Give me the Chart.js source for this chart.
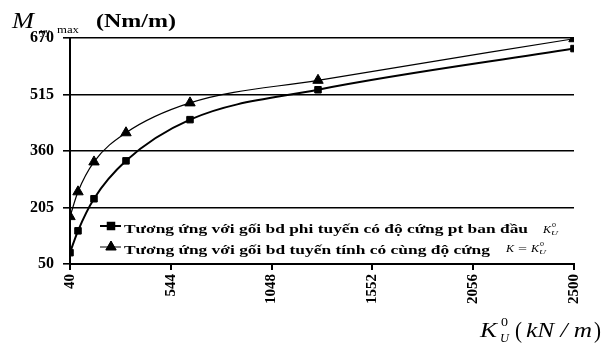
<!DOCTYPE html>
<html>
<head>
<meta charset="utf-8">
<script src="https://cdn.jsdelivr.net/npm/chart.js@4.4.1/dist/chart.umd.min.js"></script>
<style>
html,body{margin:0;padding:0;background:#fff;}
#wrap{position:relative;width:611px;height:351px;}
</style>
</head>
<body>
<div id="wrap"><canvas id="c" width="611" height="351"></canvas></div>
<script>
// ---- data ----
const xValues = [40, 80, 160, 320, 640, 1280, 2560];
const nonlinearM = [81, 141, 229, 333, 446, 528, 641];
const linearM = [180, 248, 330, 410, 492, 554, 668];
const yTickValues = [50, 205, 360, 515, 670];
const xTickValues = [40, 544, 1048, 1552, 2056, 2560];
const xTickLabels = ['40', '544', '1048', '1552', '2056', '2500'];
const seriesNames = [
  'Tương ứng với gối bd phi tuyến có độ cứng pt ban đầu',
  'Tương ứng với gối bd tuyến tính có cùng độ cứng'
];

const serif = '"Liberation Serif", "Times New Roman", serif';

const decorPlugin = {
  id: 'decor',
  afterDraw(chart) {
    const ctx = chart.ctx;
    ctx.save();
    ctx.fillStyle = '#000';
    ctx.strokeStyle = '#000';
    ctx.textBaseline = 'alphabetic';
    ctx.textAlign = 'left';
    function sText(txt, x, y, font, targetW) {
      ctx.font = font;
      const w = ctx.measureText(txt).width;
      const sx = targetW ? targetW / w : 1;
      ctx.save();
      ctx.translate(x, y);
      ctx.scale(sx, 1);
      ctx.fillText(txt, 0, 0);
      ctx.restore();
    }
    // y title
    sText('M', 12, 28, 'italic 23px ' + serif, 22);
    sText('yy', 40, 35, '10px ' + serif, 10);
    sText('max', 57, 33, '10px ' + serif, 22);
    sText('(Nm/m)', 96, 27, 'bold 19px ' + serif, 80);
    // x title
    sText('K', 480, 337, 'italic 22px ' + serif, 17);
    sText('0', 501, 326, '12px ' + serif, 7);
    sText('U', 500, 342, 'italic 12px ' + serif, 9);
    sText('(', 515, 338, '24px ' + serif, 7);
    sText('kN / m', 526, 337, 'italic 22px ' + serif, 66);
    sText(')', 594, 338, '24px ' + serif, 7);

    // legend
    const rows = [{y: 226, ty: 233, w: 404, style: 'rect', lw: 2},
                  {y: 247, ty: 254, w: 366, style: 'triangle', lw: 1}];
    rows.forEach((r, i) => {
      ctx.lineWidth = r.lw;
      ctx.beginPath();
      ctx.moveTo(100, r.y); ctx.lineTo(121, r.y); ctx.stroke();
      Chart.helpers.drawPoint(ctx, {pointStyle: r.style, radius: r.style === 'rect' ? 4.6 : 6, rotation: 0, borderWidth: 1}, 111, r.y);
      ctx.fill();
      sText(seriesNames[i], 124, r.ty, 'bold 13px ' + serif, r.w);
    });
    // legend formulas
    sText('K', 543, 233, 'italic 10px ' + serif, 8);
    sText('0', 552, 227, '7px ' + serif, 4);
    sText('U', 551, 235, 'italic 7px ' + serif, 7);
    sText('K', 506, 252, 'italic 10px ' + serif, 8);
    sText('=', 518, 252, '10px ' + serif, 9);
    sText('K', 531, 252, 'italic 10px ' + serif, 8);
    sText('0', 540, 246, '7px ' + serif, 4);
    sText('U', 539, 254, 'italic 7px ' + serif, 7);
    ctx.restore();
  }
};

new Chart(document.getElementById('c'), {
  type: 'line',
  data: {
    datasets: [
      {
        label: seriesNames[0],
        data: xValues.map((x, i) => ({x: x, y: nonlinearM[i]})),
        borderColor: '#000', backgroundColor: '#000', borderWidth: 2,
        pointStyle: 'rect', pointRadius: 4.6, pointBorderWidth: 1,
        cubicInterpolationMode: 'monotone'
      },
      {
        label: seriesNames[1],
        data: xValues.map((x, i) => ({x: x, y: linearM[i]})),
        borderColor: '#000', backgroundColor: '#000', borderWidth: 1.2,
        pointStyle: 'triangle', pointRadius: 6, pointBorderWidth: 1,
        cubicInterpolationMode: 'monotone'
      }
    ]
  },
  options: {
    responsive: false,
    animation: false,
    layout: {padding: {top: 38, right: 37, left: 0, bottom: 0}},
    plugins: {legend: {display: false}, tooltip: {enabled: false}},
    scales: {
      x: {
        type: 'linear', min: 40, max: 2560,
        afterFit(s) { s.height = 87; },
        afterBuildTicks(s) { s.ticks = xTickValues.map(v => ({value: v})); },
        ticks: {
          autoSkip: false, maxRotation: 90, minRotation: 90, padding: 4,
          color: '#000', font: {family: serif, size: 15, weight: 'bold'},
          callback(v) { const i = xTickValues.indexOf(v); return i >= 0 ? xTickLabels[i] : ''; }
        },
        grid: {display: true, drawOnChartArea: false, drawTicks: true, tickLength: 6, color: '#000', lineWidth: 2},
        border: {display: true, color: '#000', width: 2}
      },
      y: {
        type: 'linear', min: 50, max: 670,
        afterFit(s) { s.width = 70; },
        afterBuildTicks(s) { s.ticks = yTickValues.map(v => ({value: v})); },
        ticks: {
          padding: 9, color: '#000', font: {family: serif, size: 16, weight: 'bold'},
          callback(v) { return String(v); }
        },
        grid: {display: true, drawOnChartArea: true, drawTicks: true, tickLength: 7, color: '#000', lineWidth: 1.6},
        border: {display: true, color: '#000', width: 2}
      }
    }
  },
  plugins: [decorPlugin]
});
</script>
</body>
</html>
